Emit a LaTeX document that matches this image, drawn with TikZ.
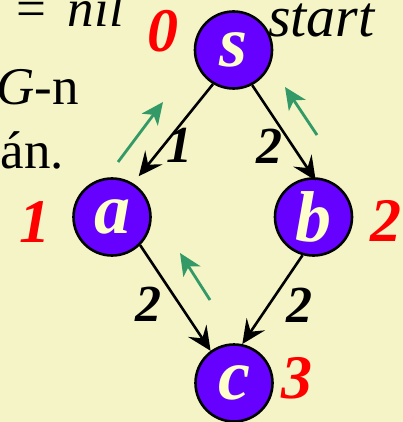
\documentclass[tikz,border=0pt]{standalone}
\usepackage{fontspec}
\setmainfont{Liberation Serif}
\usetikzlibrary{arrows.meta}
\definecolor{bg}{HTML}{F4F4C6}
\definecolor{vpurple}{HTML}{6600FF}
\definecolor{vcream}{HTML}{FFFFCC}
\definecolor{vgreen}{HTML}{339966}
\tikzset{
  vertex/.style={circle,draw=black,line width=2.6pt,fill=vpurple,minimum size=77pt,inner sep=0pt,
    text=vcream,font=\fontsize{72}{72}\selectfont\bfseries\itshape},
  dist/.style={text=red,font=\fontsize{62}{62}\selectfont\bfseries\itshape,inner sep=0pt},
  wlabel/.style={text=black,font=\fontsize{52}{52}\selectfont\bfseries\itshape,inner sep=0pt},
  plain/.style={text=black,font=\fontsize{53}{53}\selectfont,inner sep=0pt},
  edge/.style={draw=black,line width=2.6pt,-{Stealth[length=24pt,width=22pt,inset=9pt]}},
  parent/.style={draw=vgreen,line width=2.8pt,-{Stealth[length=22pt,width=20pt,inset=6pt]}}
}
\begin{document}
\begin{tikzpicture}[x=1pt,y=-1pt]
\fill[bg] (0,0) rectangle (403,422);
\useasboundingbox (0,0) rectangle (403,422);
\begin{scope}
\clip (0,0) rectangle (403,422);
% cut-off text at left
\node[plain,anchor=base east] (t1) at (124,27) {=\hspace{21pt}\textit{nil}};
\node[plain,anchor=base east] (t2) at (79,105) {\textit{G}-n};
\node[plain,anchor=base east] (t3) at (64,168) {án.};
\node[plain,anchor=base west,font=\fontsize{58}{58}\selectfont\itshape] (st) at (268,37) {start};
% vertices
\node[vertex] (s) at (233.5,50) {s};
\node[vertex] (a) at (112,217) {a};
\node[vertex] (b) at (313.5,217) {b};
\node[vertex] (c) at (234,383) {c};
% distances
\node[dist] (d0) at (163,31) {0};
\node[dist] (d1) at (35,222) {1};
\node[dist] (d2) at (386,221) {2};
\node[dist] (d3) at (297,378) {3};
% edges
\draw[edge,shorten >=9pt] (s.-121) -- (a.58);
\draw[edge,shorten >=-4pt] (s.-62) -- (b.90);
\draw[edge] (a.-45) -- (c.126);
\draw[edge] (b.-106) -- (c.78);
% weights
\node[wlabel] (w1) at (179,145) {1};
\node[wlabel] (w2) at (269,146) {2};
\node[wlabel] (w3) at (148,304) {2};
\node[wlabel] (w4) at (299,305) {2};
% parent arrows
\coordinate (g1a) at (118,162);
\coordinate (g1b) at (163,102);
\coordinate (g2a) at (317,135);
\coordinate (g2b) at (285,87);
\coordinate (g3a) at (210,300);
\coordinate (g3b) at (180,253);
\draw[parent] (g1a) -- (g1b);
\draw[parent] (g2a) -- (g2b);
\draw[parent] (g3a) -- (g3b);
\end{scope}
\end{tikzpicture}
\end{document}
